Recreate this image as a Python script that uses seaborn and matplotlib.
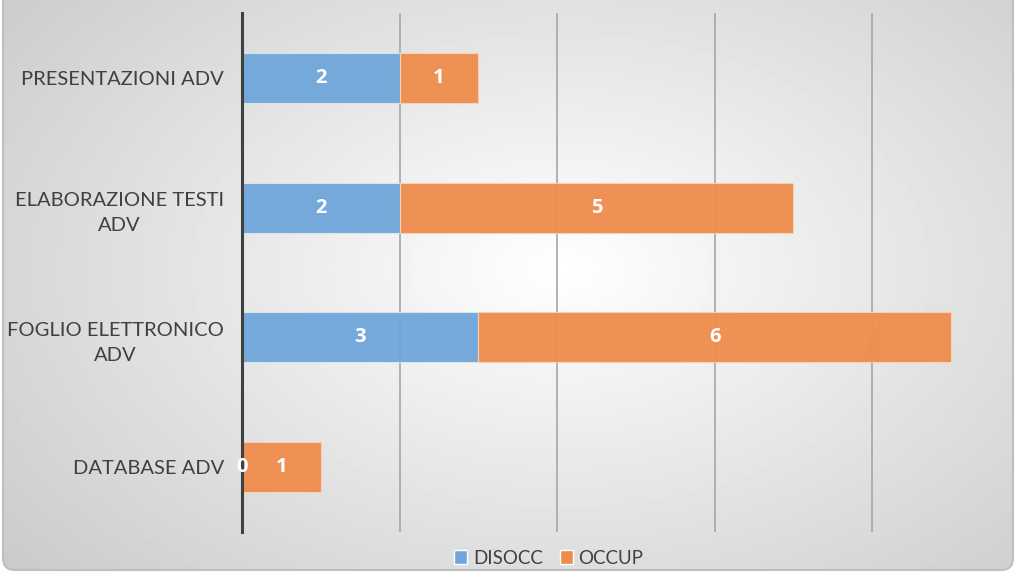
import numpy as np
import pandas as pd
import seaborn as sns
import matplotlib.pyplot as plt
from matplotlib.patches import FancyBboxPatch, Patch

sns.set_theme(style="white")
plt.rcParams['font.family'] = ['Lato', 'DejaVu Sans']

corsi = ["PRESENTAZIONI ADV", "ELABORAZIONE TESTI\nADV", "FOGLIO ELETTRONICO\nADV", "DATABASE ADV"]
disocc = [2, 2, 3, 0]
occup = [1, 5, 6, 1]
serie = ["DISOCC", "OCCUP"]

blu = "#6FA6DA"
arancio = "#EF8C4C"
grigio = "#404040"

fig = plt.figure(figsize=(10.16, 5.73), dpi=100)
fig.patch.set_facecolor("white")

# sfondo sfumato con bordo arrotondato
bg = fig.add_axes([0, 0, 1, 1], zorder=-1)
yy, xx = np.mgrid[0:573, 0:1016]
d = np.sqrt(((xx - 560) / 700.0) ** 2 + ((yy - 270) / 450.0) ** 2)
grad = 1 - 0.2 * np.clip(d, 0, 1.1)
im = bg.imshow(grad, cmap="gray", vmin=0, vmax=1, extent=[0, 1016, 573, 0], aspect="auto")
box = FancyBboxPatch((3, -30), 1010, 600, boxstyle="round,pad=0,rounding_size=12",
                     fc="none", ec="#BFBFBF", lw=1.5, transform=bg.transData)
bg.add_patch(box)
im.set_clip_path(box)
bg.set_xlim(0, 1016)
bg.set_ylim(573, 0)
bg.axis("off")

ax = fig.add_axes([242 / 1016, 41 / 573, (1010 - 242) / 1016, 519 / 573])
ax.patch.set_alpha(0)

df = pd.DataFrame({"corso": corsi, "DISOCC": disocc, "OCCUP": occup})
sns.barplot(data=df, y="corso", x="DISOCC", color=blu, width=0.385, saturation=1,
            edgecolor="#D9E6F2", linewidth=0.8, alpha=0.95, zorder=3, ax=ax)
ax.barh(np.arange(len(corsi)), occup, left=disocc, height=0.385, color=arancio,
        edgecolor="#F7D2B8", linewidth=0.8, alpha=0.95, zorder=3)

for c in ax.containers:
    ax.bar_label(c, label_type="center", color="white", fontsize=14.5, zorder=6,
                 fontweight="bold", family=["Open Sans", "DejaVu Sans"])

ax.set_xlim(0, 9.75)
ax.set_ylim(3.5, -0.5)
ax.set_xticks([2, 4, 6, 8])
ax.set_axisbelow(True)
ax.xaxis.grid(True, color="#A6A6A6", lw=1.2)
ax.tick_params(axis="x", labelbottom=False, length=0)
ax.tick_params(axis="y", length=0, pad=13, labelsize=14.5, labelcolor=grigio)
for lbl in ax.get_yticklabels():
    lbl.set_multialignment("center")
    lbl.set_linespacing(1.55)
ax.set_xlabel("")
ax.set_ylabel("")
for s in ["top", "right", "bottom"]:
    ax.spines[s].set_visible(False)
ax.spines["left"].set_color(grigio)
ax.spines["left"].set_linewidth(2.2)
ax.spines["left"].set_zorder(4)

fig.legend(handles=[Patch(fc=blu), Patch(fc=arancio)], labels=serie, loc="center",
           bbox_to_anchor=(0.54, 0.026), ncol=2, frameon=False, handlelength=0.7,
           handleheight=0.7, fontsize=13.5, labelcolor=grigio, handletextpad=0.3,
           columnspacing=0.9)

fig.savefig("out.png", dpi=100)
